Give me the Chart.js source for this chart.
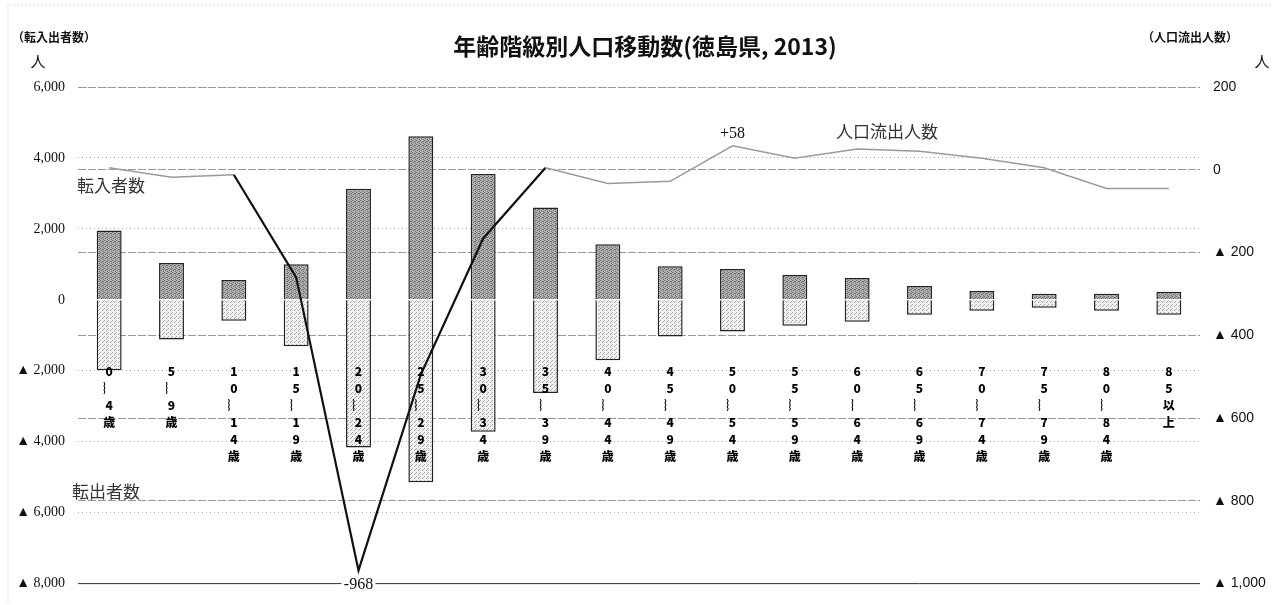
<!DOCTYPE html>
<html lang="ja">
<head>
<meta charset="utf-8">
<title>年齢階級別人口移動数(徳島県, 2013)</title>
<script src="https://cdn.jsdelivr.net/npm/chart.js@4.4.1/dist/chart.umd.min.js"></script>
<style>
  html, body { margin: 0; padding: 0; background: #fff; }
  #wrap { width: 1274px; height: 605px; position: relative; }
</style>
</head>
<body>
<div id="wrap"><canvas id="grafico"></canvas></div>
<script>
// 年齢階級
const ageGroups = ['0〜4', '5〜9', '10〜14', '15〜19', '20〜24', '25〜29', '30〜34', '35〜39', '40〜44',
  '45〜49', '50〜54', '55〜59', '60〜64', '65〜69', '70〜74', '75〜79', '80〜84', '85以上'];

// 転入者数 / 転出者数 (人, 左軸)
const tennyu = [1955, 1035, 560, 1005, 3130, 4610, 3550, 2600, 1570, 950, 870, 700, 615, 390, 250, 170, 170, 225];
const tenshutsu = [-1985, -1120, -590, -1310, -4160, -5140, -3720, -2630, -1700, -1035, -895, -730, -615, -420, -310, -225, -305, -420];

// 人口流出人数 (人, 右軸)
const ryushutsu = [5, -18, -12, -260, -968, -495, -166, 5, -33, -28, 58, 28, 50, 45, 28, 5, -45, -45];

// 軸の目盛り
const leftTicks = [-8000, -6000, -4000, -2000, 0, 2000, 4000, 6000];
const rightTicks = [-1000, -800, -600, -400, -200, 0, 200];

// ラベルを縦書き風に分解
function tateLabel(s) {
  if (s.indexOf('以上') >= 0) return s.split('');
  const [a, b] = s.split('〜');
  return [...a.split(''), '︴', ...b.split(''), '歳'];
}

function fmt(v) {
  const s = Math.abs(v).toLocaleString('en-US');
  return v < 0 ? '▲ ' + s : s;
}

// 網掛けパターン
function makePattern(base, dot, dots) {
  const c = document.createElement('canvas');
  c.width = 4; c.height = 4;
  const g = c.getContext('2d');
  g.fillStyle = base;
  g.fillRect(0, 0, 4, 4);
  g.fillStyle = dot;
  dots.forEach(p => g.fillRect(p[0], p[1], 1, 1));
  return g.createPattern(c, 'repeat');
}
const darkFill = makePattern('#b0b0b0', '#6e6e6e', [[0, 0], [2, 1], [1, 2], [3, 3], [3, 1]]);
const lightFill = makePattern('#f2f2f2', '#a8a8a8', [[0, 0], [2, 2], [3, 1]]);

const textos = {
  id: 'textos',
  beforeDatasetsDraw(chart) {
    // 右軸の一番下の線は実線
    const ctx = chart.ctx, a = chart.chartArea;
    const yb = chart.scales.y1.getPixelForValue(-1000);
    ctx.save();
    ctx.strokeStyle = '#333';
    ctx.lineWidth = 1;
    ctx.beginPath();
    ctx.moveTo(a.left, yb);
    ctx.lineTo(a.right, yb);
    ctx.stroke();
    ctx.restore();
  },
  afterDraw(chart) {
    const ctx = chart.ctx;
    const x = chart.scales.x, y1 = chart.scales.y1;
    ctx.save();
    ctx.fillStyle = '#111';
    ctx.textBaseline = 'middle';

    ctx.textAlign = 'center';
    ctx.font = 'bold 23px "Noto Sans CJK JP"';
    ctx.fillText('年齢階級別人口移動数(徳島県, 2013)', 645, 46);

    ctx.textAlign = 'left';
    ctx.font = 'bold 12px "Noto Sans CJK JP"';
    ctx.fillText('（転入出者数）', 12, 37);
    ctx.textAlign = 'right';
    ctx.fillText('（人口流出人数）', 1238, 37);

    ctx.textAlign = 'center';
    ctx.font = '15px "Noto Sans CJK JP"';
    ctx.fillText('人', 38, 61);
    ctx.fillText('人', 1262, 61);

    ctx.font = '17px "Noto Sans CJK JP"';
    ctx.textAlign = 'left';
    ctx.fillStyle = '#333';
    ctx.fillText('転入者数', 77, 186);
    ctx.fillText('転出者数', 72, 492);
    ctx.fillText('人口流出人数', 836, 132);

    // 最大・最小の値
    ctx.fillStyle = '#111';
    ctx.textAlign = 'center';
    ctx.font = '16px "Liberation Serif"';
    const iMax = ryushutsu.indexOf(Math.max(...ryushutsu));
    const iMin = ryushutsu.indexOf(Math.min(...ryushutsu));
    ctx.fillText('+' + ryushutsu[iMax], x.getPixelForValue(iMax), y1.getPixelForValue(ryushutsu[iMax]) - 12);
    const mx = x.getPixelForValue(iMin), my = chart.chartArea.bottom + 1;
    ctx.fillStyle = '#fff';
    ctx.fillRect(mx - 17, my - 8, 34, 16);
    ctx.fillStyle = '#111';
    ctx.fillText(String(ryushutsu[iMin]), mx, my);

    // 枠
    ctx.strokeStyle = '#bbb';
    ctx.setLineDash([1, 3]);
    ctx.beginPath();
    ctx.moveTo(8, 603);
    ctx.lineTo(8, 5);
    ctx.lineTo(1272, 5);
    ctx.stroke();
    ctx.restore();
  }
};

new Chart(document.getElementById('grafico'), {
  data: {
    labels: ageGroups.map(tateLabel),
    datasets: [
      {
        type: 'line',
        label: '人口流出人数',
        data: ryushutsu,
        yAxisID: 'y1',
        order: 0,
        pointRadius: 0,
        borderWidth: 1.5,
        borderColor: '#9a9a9a',
        segment: {
          borderColor: c => (c.p0DataIndex >= 2 && c.p0DataIndex <= 6) ? '#111' : '#9a9a9a',
          borderWidth: c => (c.p0DataIndex >= 2 && c.p0DataIndex <= 6) ? 2.2 : 1.5
        }
      },
      {
        type: 'bar',
        label: '転入者数',
        data: tennyu,
        yAxisID: 'y',
        stack: 'idou',
        order: 1,
        backgroundColor: darkFill,
        borderColor: '#222',
        borderWidth: 1.5,
        barPercentage: 0.4,
        categoryPercentage: 1
      },
      {
        type: 'bar',
        label: '転出者数',
        data: tenshutsu,
        yAxisID: 'y',
        stack: 'idou',
        order: 1,
        backgroundColor: lightFill,
        borderColor: '#222',
        borderWidth: 1.5,
        barPercentage: 0.4,
        categoryPercentage: 1
      }
    ]
  },
  options: {
    responsive: true,
    maintainAspectRatio: false,
    animation: false,
    layout: { padding: { top: 87, bottom: 15, left: 0, right: 0 } },
    plugins: {
      legend: { display: false },
      title: { display: false },
      tooltip: { enabled: false }
    },
    scales: {
      x: {
        stacked: true,
        position: { y: -1700 },
        grid: { display: false, drawTicks: false },
        border: { display: false },
        ticks: {
          z: 1,
          autoSkip: false,
          maxRotation: 0,
          padding: 3,
          color: '#000',
          font: { family: '"Noto Sans CJK JP"', size: 12, weight: '900', lineHeight: 1.42 }
        }
      },
      y: {
        stacked: true,
        position: 'left',
        min: -8000,
        max: 6000,
        afterBuildTicks: s => { s.ticks = leftTicks.map(v => ({ value: v })); },
        afterFit: s => { s.width = 78; },
        grid: {
          drawTicks: false,
          color: c => (c.tick.value === 0 || c.tick.value === -8000) ? 'rgba(0,0,0,0)' : '#aaa',
          lineWidth: 1
        },
        border: { display: false, dash: [1, 3] },
        ticks: {
          padding: 13,
          color: '#111',
          font: { family: '"Liberation Serif"', size: 14 },
          callback: v => fmt(v)
        }
      },
      y1: {
        position: 'right',
        min: -1000,
        max: 200,
        afterBuildTicks: s => { s.ticks = rightTicks.map(v => ({ value: v })); },
        afterFit: s => { s.width = 74; },
        grid: {
          drawTicks: false,
          color: c => c.tick.value === -1000 ? 'rgba(0,0,0,0)' : '#999',
          lineWidth: 1
        },
        border: { display: false, dash: [8, 2] },
        ticks: {
          padding: 13,
          color: '#111',
          font: { family: '"Liberation Sans"', size: 14 },
          callback: v => fmt(v)
        }
      }
    }
  },
  plugins: [textos]
});
</script>
</body>
</html>
